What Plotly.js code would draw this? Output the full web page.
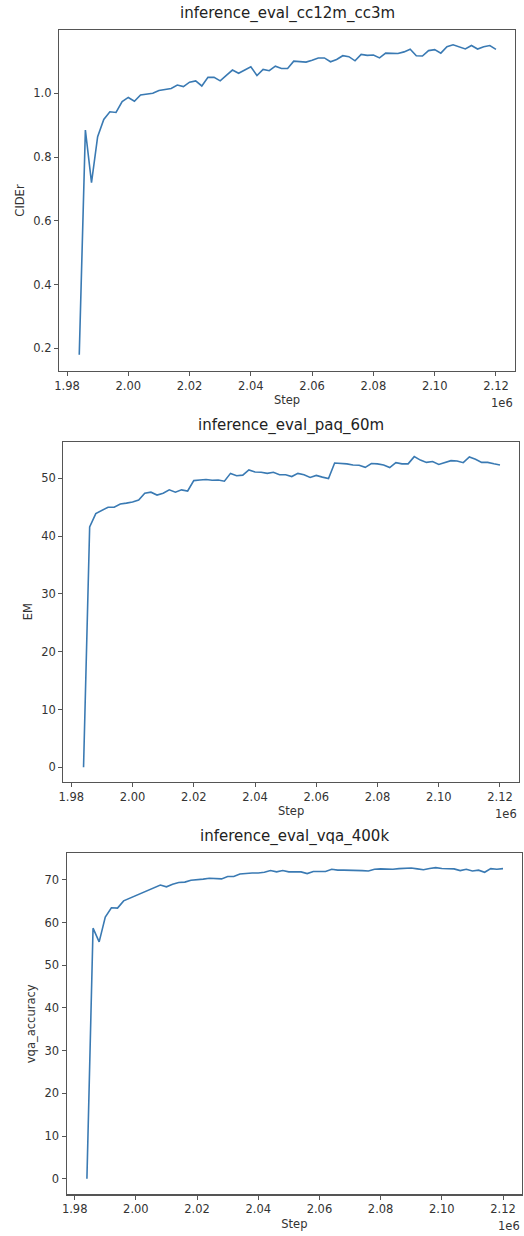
<!DOCTYPE html>
<html>
<head>
<meta charset="utf-8">
<script src="https://cdn.plot.ly/plotly-3.0.1.min.js"></script>
<style>
html,body{margin:0;padding:0;background:#fff;}
#chart{width:524px;height:1236px;}
</style>
</head>
<body>
<div id="chart"></div>
<script>
// ---- data ----
const steps = [1984000,1986000,1988000,1990000,1992000,1994000,1996000,1998000,2000000,2002000,
  2004000,2006000,2008000,2010000,2012000,2014000,2016000,2018000,2020000,2022000,
  2024000,2026000,2028000,2030000,2032000,2034000,2036000,2038000,2040000,2042000,
  2044000,2046000,2048000,2050000,2052000,2054000,2056000,2058000,2060000,2062000,
  2064000,2066000,2068000,2070000,2072000,2074000,2076000,2078000,2080000,2082000,
  2084000,2086000,2088000,2090000,2092000,2094000,2096000,2098000,2100000,2102000,
  2104000,2106000,2108000,2110000,2112000,2114000,2116000,2118000,2120000];

const cider = [0.18,0.885,0.72,0.864,0.918,0.942,0.940,0.974,0.987,0.975,
  0.995,0.998,1.000,1.009,1.013,1.015,1.026,1.021,1.035,1.039,
  1.023,1.050,1.050,1.039,1.056,1.073,1.063,1.073,1.083,1.056,
  1.075,1.071,1.085,1.078,1.078,1.101,1.100,1.098,1.104,1.111,
  1.111,1.099,1.106,1.118,1.115,1.102,1.122,1.119,1.120,1.111,
  1.126,1.125,1.125,1.130,1.138,1.118,1.117,1.134,1.137,1.126,
  1.146,1.152,1.146,1.139,1.150,1.139,1.146,1.150,1.138];

const em = [0.0,41.6,43.9,44.5,45.0,45.0,45.55,45.7,45.9,46.25,
  47.4,47.6,47.1,47.4,48.0,47.6,48.0,47.8,49.6,49.7,
  49.8,49.65,49.7,49.5,50.85,50.45,50.55,51.45,51.1,51.05,
  50.85,51.05,50.6,50.6,50.3,50.85,50.6,50.15,50.5,50.2,
  49.95,52.65,52.6,52.5,52.3,52.25,51.9,52.55,52.5,52.3,
  51.85,52.7,52.5,52.5,53.75,53.15,52.75,52.9,52.4,52.75,
  53.05,53.0,52.7,53.7,53.3,52.75,52.75,52.5,52.3];

const vqa = [0.0,58.7,55.5,61.3,63.5,63.4,65.1,65.7,66.25,66.9,
  67.5,68.2,68.8,68.4,69.0,69.4,69.5,69.95,70.0,70.2,
  70.4,70.4,70.25,70.8,70.8,71.4,71.55,71.65,71.65,71.8,
  72.2,71.9,72.2,71.9,71.9,71.9,71.5,72.0,72.0,72.0,
  72.5,72.3,72.3,72.3,72.3,72.2,72.1,72.5,72.6,72.5,
  72.5,72.65,72.65,72.8,72.6,72.4,72.7,72.9,72.7,72.65,
  72.6,72.2,72.5,72.1,72.3,71.8,72.65,72.5,72.65];

const titles = ["inference_eval_cc12m_cc3m","inference_eval_paq_60m","inference_eval_vqa_400k"];
const yLabels = ["CIDEr","EM","vqa_accuracy"];
const xLabel = "Step";
const xTickVals = [1980000,2000000,2020000,2040000,2060000,2080000,2100000,2120000];
const xTickText = ["1.98","2.00","2.02","2.04","2.06","2.08","2.10","2.12"];
const y1TickVals = [0.2,0.4,0.6,0.8,1.0];
const y1TickText = ["0.2","0.4","0.6","0.8","1.0"];
const y2TickVals = [0,10,20,30,40,50];
const y3TickVals = [0,10,20,30,40,50,60,70];
const offsetText = "1e6";

// ---- layout geometry (pixels) ----
const W = 524, H = 1236;
const boxes = [
  {l:59, r:515, t:30, b:371, yr:[0.129,1.1986]},
  {l:63.3, r:519, t:441.7, b:781.7, yr:[-2.49,56.33]},
  {l:66.7, r:522, t:853.3, b:1194.3, yr:[-3.66,76.25]}
];
const xr = [1977390, 2126210];
const lineColor = "#3a7ab3";
const txt = "#333333";
const axCol = "#555555";
const fontFam = "DejaVu Sans, sans-serif";

const series = [cider, em, vqa];
const yTicks = [[y1TickVals,y1TickText],[y2TickVals,y2TickVals.map(String)],[y3TickVals,y3TickVals.map(String)]];

const data = series.map((s,i)=>({
  x: steps, y: s, type:'scatter', mode:'lines',
  line:{color:lineColor, width:1.6},
  xaxis: i===0?'x':'x'+(i+1), yaxis: i===0?'y':'y'+(i+1),
  showlegend:false, hoverinfo:'skip'
}));

const layout = {
  width:W, height:H, margin:{l:0,r:0,t:0,b:0},
  paper_bgcolor:'#fff', plot_bgcolor:'#fff',
  font:{family:fontFam, size:11.5, color:txt},
  annotations:[], showlegend:false
};

boxes.forEach((b,i)=>{
  const xk = i===0?'xaxis':'xaxis'+(i+1);
  const yk = i===0?'yaxis':'yaxis'+(i+1);
  const xa = i===0?'x':'x'+(i+1);
  const ya = i===0?'y':'y'+(i+1);
  layout[xk] = {
    domain:[b.l/W, b.r/W], anchor:ya, range:xr,
    tickmode:'array', tickvals:xTickVals, ticktext:xTickText,
    ticks:'outside', ticklen:4, tickwidth:1, tickcolor:axCol,
    showline:true, linecolor:axCol, linewidth:1.2, mirror:true,
    showgrid:false, zeroline:false,
    tickfont:{size:11.5, color:txt, family:fontFam},
    title:{text:xLabel, font:{size:11.5,color:txt,family:fontFam}, standoff:4}
  };
  layout[yk] = {
    domain:[1-b.b/H, 1-b.t/H], anchor:xa, range:b.yr,
    tickmode:'array', tickvals:yTicks[i][0], ticktext:yTicks[i][1],
    ticks:'outside', ticklen:4, tickwidth:1, tickcolor:axCol,
    showline:true, linecolor:axCol, linewidth:1.2, mirror:true,
    showgrid:false, zeroline:false,
    tickfont:{size:11.5, color:txt, family:fontFam},
    title:{text:yLabels[i], font:{size:11.5,color:txt,family:fontFam}, standoff:6}
  };
  layout.annotations.push({
    text:titles[i], xref:'paper', yref:'paper',
    x:((b.l+b.r)/2)/W, y:1-(b.t-5)/H, xanchor:'center', yanchor:'bottom',
    showarrow:false, font:{size:15,color:'#222',family:fontFam}
  });
  layout.annotations.push({
    text:offsetText, xref:'paper', yref:'paper',
    x:b.r/W, y:1-(b.b+23)/H, xanchor:'right', yanchor:'top',
    showarrow:false, font:{size:11.5,color:txt,family:fontFam}
  });
});

Plotly.newPlot('chart', data, layout, {staticPlot:true, displayModeBar:false});
</script>
</body>
</html>
